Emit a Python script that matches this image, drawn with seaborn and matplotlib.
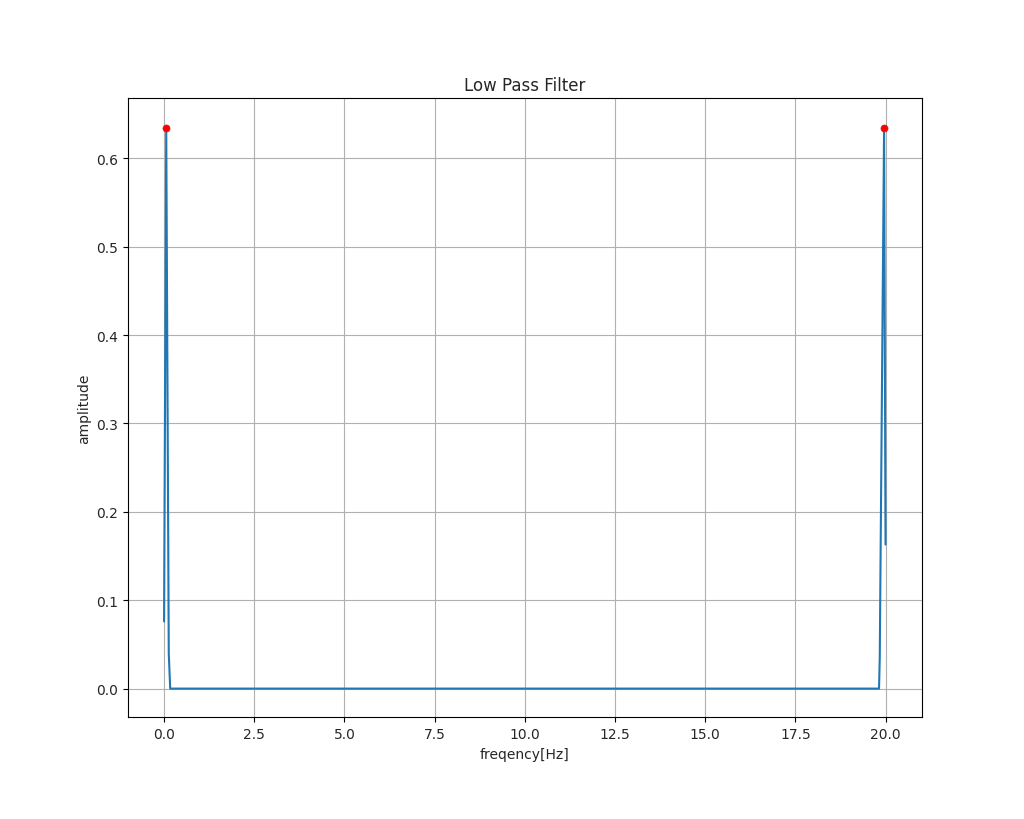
import numpy as np
import pandas as pd
import matplotlib
matplotlib.use("Agg")
import matplotlib.pyplot as plt
import seaborn as sns

# spectrum points
freq = [0.0, 0.06, 0.13, 0.17, 19.82, 19.84, 19.96, 20.0]
amp = [0.076, 0.634, 0.04, 0.0, 0.0, 0.035, 0.634, 0.163]

# detected peaks
peak_freq = [0.06, 19.96]
peak_amp = [0.634, 0.634]

sns.set_style("ticks")
plt.rcParams['font.family'] = ['DejaVu Sans']

fig, ax = plt.subplots(figsize=(10.24, 8.2), dpi=100)
fig.subplots_adjust(left=0.125, right=0.9, top=0.879, bottom=0.124)

spec = pd.DataFrame({'freq': freq, 'amp': amp})
sns.lineplot(data=spec, x='freq', y='amp', sort=False, color='#1f77b4',
             linewidth=1.5, ax=ax)
sns.scatterplot(x=peak_freq, y=peak_amp, color='red', s=26, edgecolor='#d62020',
                linewidth=0.5, zorder=3, ax=ax)

ax.set_xlim(-1.0, 21.0)
ax.set_ylim(-0.0325, 0.668)
ax.set_xticks(np.arange(0, 20.1, 2.5))
ax.set_yticks(np.arange(0, 0.61, 0.1))
ax.grid(True, color='#b0b0b0', linewidth=0.8)
for s in ax.spines.values():
    s.set_visible(True)
    s.set_color('black')
    s.set_linewidth(0.8)
ax.tick_params(labelsize=10, length=3.5, width=0.8, color='black')

ax.set_title('Low Pass Filter', fontsize=12)
ax.set_xlabel('freqency[Hz]', fontsize=10)
ax.set_ylabel('amplitude', fontsize=10)

fig.savefig('out.png', dpi=100)
